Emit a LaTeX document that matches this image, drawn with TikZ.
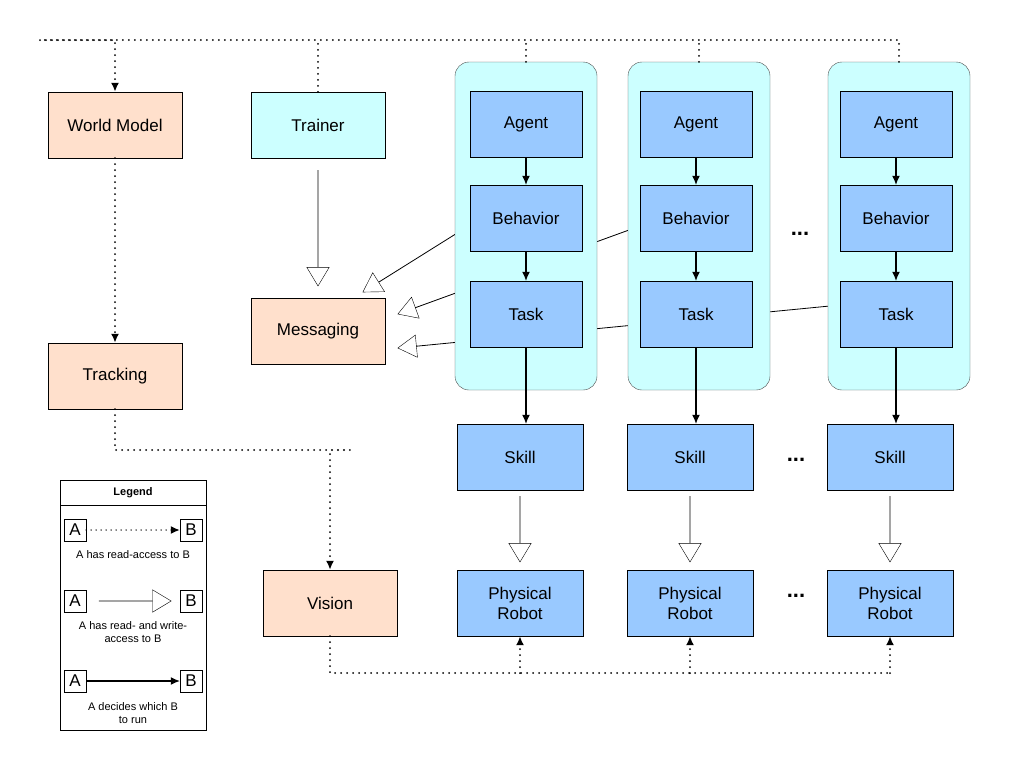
\documentclass[tikz,border=0pt]{standalone}
\usepackage{fontspec}
\setmainfont{Liberation Sans}
\usetikzlibrary{shapes.arrows,calc,arrows.meta}

\definecolor{peach}{HTML}{FFE0CC}
\definecolor{aqua}{HTML}{CCFFFF}
\definecolor{steel}{HTML}{99C9FF}

\tikzset{
	box/.style={draw=black, minimum width=#1, minimum height=66pt, inner sep=0pt, align=center, font=\fontsize{17}{20}\selectfont},
	box/.default=134pt,
	world/.style={box, fill=peach},
	unit/.style={box=112pt, fill=steel},
	ctr/.style={draw=black!70, fill=aqua, rounded corners=14pt, minimum width=142pt, minimum height=328pt},
	fat/.style={single arrow, draw=black, fill=white, minimum width=14pt, single arrow head extend=11pt, single arrow tip angle=62, inner sep=0pt},
	rd/.style={line width=2pt, dash pattern=on 0pt off 6pt, line cap=round},
	tip/.style={-{Latex[length=9pt,width=8pt]}},
	small/.style={font=\fontsize{11}{13}\selectfont, align=center},
	ab/.style={draw=black, minimum size=22pt, inner sep=0pt, font=\fontsize{17}{17}\selectfont},
}

\newcommand{\fatarrow}[2]{\path let \p1=(#1), \p2=(#2), \n1={atan2(\y2-\y1,\x2-\x1)}, \n2={veclen(\x2-\x1,\y2-\y1)} in node[fat, rotate=\n1, minimum height=\n2] at ($(#1)!0.5!(#2)$) {};}

\begin{document}
\begin{tikzpicture}[x=1pt, y=-1pt]
	\useasboundingbox (0,0) rectangle (1017,772);

	% hollow arrows to messaging (behind the containers)
	\coordinate (m1s) at (470,225);  \coordinate (m1e) at (363,292);
	\coordinate (m2s) at (640,226);  \coordinate (m2e) at (398,314);
	\coordinate (m3s) at (840,305);  \coordinate (m3e) at (398,348);
	\fatarrow{m1s}{m1e}
	\fatarrow{m2s}{m2e}
	\fatarrow{m3s}{m3e}

	% left column
	\node[world] (world) at (115,125) {World Model};
	\node[world] (track) at (115,376) {Tracking};
	\node[box, fill=aqua] (trainer) at (318,125) {Trainer};
	\node[world] (msg) at (318,331) {Messaging};
	\node[world] (vision) at (330,603) {Vision};

	% containers
	\node[ctr] (c1) at (526,226) {};
	\node[ctr] (c2) at (699,226) {};
	\node[ctr] (c3) at (899,226) {};

	\foreach \i/\x in {1/526, 2/696, 3/896} {
		\node[unit] (agent\i) at (\x,124) {Agent};
		\node[unit] (beh\i) at (\x,218) {Behavior};
		\node[unit] (task\i) at (\x,314) {Task};
		\node[box=126pt, fill=steel] (skill\i) at (\x-6,457) {Skill};
		\node[box=126pt, fill=steel] (robot\i) at (\x-6,603) {Physical\\Robot};
		\draw[tip, line width=1.2pt] (agent\i) -- (beh\i);
		\draw[tip, line width=1.2pt] (beh\i) -- (task\i);
		\draw[tip, line width=1.2pt] (task\i.south) -- (task\i.south |- skill\i.north);
		\coordinate (s\i) at ($(skill\i.south)+(0,6)$);
		\coordinate (r\i) at ($(robot\i.north)+(0,-8)$);
		\fatarrow{s\i}{r\i}
	}

	\node (dots1) at (800,234) {\fontsize{22}{22}\selectfont\textbf{...}};
	\node (dots2) at (796,460) {\fontsize{22}{22}\selectfont\textbf{...}};
	\node (dots3) at (796,596) {\fontsize{22}{22}\selectfont\textbf{...}};

	\coordinate (t1) at ($(trainer.south)+(0,12)$);
	\coordinate (t2) at ($(msg.north)+(0,-12)$);
	\fatarrow{t1}{t2}

	% read access
	\draw[rd] (c3.north) |- (40,40) coordinate (top);
	\draw[rd] (c1.north) -- (c1.north |- top);
	\draw[rd] (c2.north) -- (c2.north |- top);
	\draw[rd] (trainer.north) -- (trainer.north |- top);
	\draw[rd, tip] (top) -| (world.north);
	\draw[rd, tip] (world) -- (track);
	\draw[rd, tip] (track.south) |- (350,450) -| (vision.north);
	\draw[rd] (vision.south) |- (robot3.south |- 0,673) coordinate (bot);
	\foreach \i in {1,2,3}
		\draw[rd, tip] (robot\i.south |- bot) -- (robot\i.south);

	% legend
	\node[draw=black, minimum width=146pt, minimum height=250pt, inner sep=0pt] (legend) at (133,605) {};
	\node[draw=black, minimum width=146pt, minimum height=25pt, inner sep=0pt, font=\fontsize{11}{13}\selectfont\bfseries] (ltitle) at (133,492.5) {Legend};
	\node[ab] (a1) at (75,530) {A};
	\node[ab] (b1) at (191,530) {B};
	\draw[rd, line width=1.5pt, dash pattern=on 0pt off 5pt, tip] (a1) -- (b1);
	\node[small] (l1) at (133,555) {A has read-access to B};
	\node[ab] (a2) at (75,601) {A};
	\node[ab] (b2) at (191,601) {B};
	\coordinate (f1) at (99,601); \coordinate (f2) at (171,601);
	\fatarrow{f1}{f2}
	\node[small] (l2) at (133,632) {A has read- and write-\\access to B};
	\node[ab] (a3) at (75,681) {A};
	\node[ab] (b3) at (191,681) {B};
	\draw[tip, line width=1.2pt] (a3) -- (b3);
	\node[small] (l3) at (133,713) {A decides which B\\to run};
\end{tikzpicture}
\end{document}
